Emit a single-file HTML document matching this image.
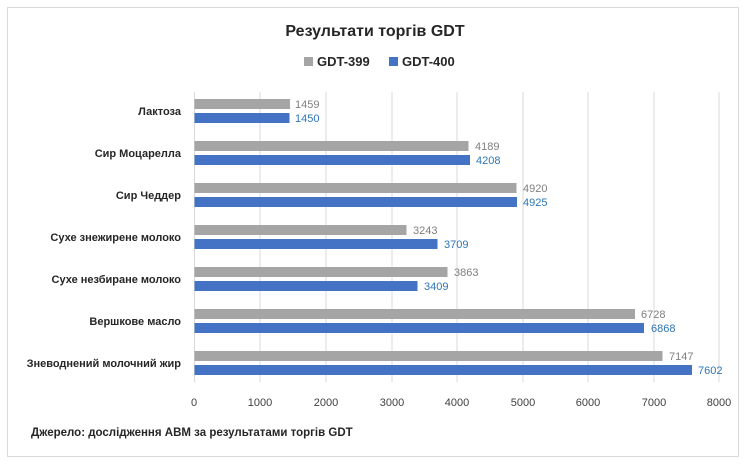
<!DOCTYPE html>
<html><head><meta charset="utf-8"><style>
body{margin:0;background:#fff;}
svg text{font-family:"Liberation Sans Narrow","Liberation Sans",sans-serif;}
</style></head><body>
<svg width="750" height="470" xmlns="http://www.w3.org/2000/svg">
<rect x="7.5" y="7.5" width="731" height="449" fill="#fff" stroke="#d9d9d9"/>
<text x="375" y="36" text-anchor="middle" font-size="16" font-weight="bold" fill="#262626">Результати торгів GDT</text>
<rect x="304" y="57" width="9" height="9" fill="#a5a5a5"/>
<text x="317" y="66" font-size="13" font-weight="bold" fill="#262626">GDT-399</text>
<rect x="389" y="57" width="9" height="9" fill="#4472c4"/>
<text x="402" y="66" font-size="13" font-weight="bold" fill="#262626">GDT-400</text>
<g stroke="#d9d9d9" stroke-width="1">
<line x1="194.5" y1="92" x2="194.5" y2="382"/><line x1="260" y1="92" x2="260" y2="382"/><line x1="326" y1="92" x2="326" y2="382"/><line x1="392" y1="92" x2="392" y2="382"/><line x1="457" y1="92" x2="457" y2="382"/><line x1="523" y1="92" x2="523" y2="382"/><line x1="588" y1="92" x2="588" y2="382"/><line x1="654" y1="92" x2="654" y2="382"/><line x1="719" y1="92" x2="719" y2="382"/>
</g>
<g font-size="11" fill="#404040" text-anchor="middle">
<text x="194" y="406">0</text><text x="260" y="406">1000</text><text x="326" y="406">2000</text><text x="392" y="406">3000</text><text x="457" y="406">4000</text><text x="523" y="406">5000</text><text x="588" y="406">6000</text><text x="654" y="406">7000</text><text x="719" y="406">8000</text>
</g>
<g font-size="11" font-weight="bold" fill="#262626" text-anchor="end">
<text x="181" y="115">Лактоза</text>
<text x="181" y="157">Сир Моцарелла</text>
<text x="181" y="199">Сир Чеддер</text>
<text x="181" y="241">Сухе знежирене молоко</text>
<text x="181" y="283">Сухе незбиране молоко</text>
<text x="181" y="325">Вершкове масло</text>
<text x="181" y="367">Зневоднений молочний жир</text>
</g>
<g font-size="11">
<rect x="194.5" y="99" width="95.5" height="10" fill="#a5a5a5"/><text x="295" y="108" fill="#7f7f7f">1459</text>
<rect x="194.5" y="113" width="95" height="10" fill="#4472c4"/><text x="295" y="122" fill="#2e75b6">1450</text>
<rect x="194.5" y="141" width="274" height="10" fill="#a5a5a5"/><text x="475" y="150" fill="#7f7f7f">4189</text>
<rect x="194.5" y="155" width="275.5" height="10" fill="#4472c4"/><text x="476" y="164" fill="#2e75b6">4208</text>
<rect x="194.5" y="183" width="322" height="10" fill="#a5a5a5"/><text x="523" y="192" fill="#7f7f7f">4920</text>
<rect x="194.5" y="197" width="322.5" height="10" fill="#4472c4"/><text x="523" y="206" fill="#2e75b6">4925</text>
<rect x="194.5" y="225" width="212" height="10" fill="#a5a5a5"/><text x="413" y="234" fill="#7f7f7f">3243</text>
<rect x="194.5" y="239" width="243" height="10" fill="#4472c4"/><text x="444" y="248" fill="#2e75b6">3709</text>
<rect x="194.5" y="267" width="253" height="10" fill="#a5a5a5"/><text x="454" y="276" fill="#7f7f7f">3863</text>
<rect x="194.5" y="281" width="223" height="10" fill="#4472c4"/><text x="424" y="290" fill="#2e75b6">3409</text>
<rect x="194.5" y="309" width="440.5" height="10" fill="#a5a5a5"/><text x="641" y="318" fill="#7f7f7f">6728</text>
<rect x="194.5" y="323" width="449.5" height="10" fill="#4472c4"/><text x="651" y="332" fill="#2e75b6">6868</text>
<rect x="194.5" y="351" width="468" height="10" fill="#a5a5a5"/><text x="669" y="360" fill="#7f7f7f">7147</text>
<rect x="194.5" y="365" width="497.5" height="10" fill="#4472c4"/><text x="698" y="374" fill="#2e75b6">7602</text>
</g>
<text x="31" y="436" font-size="11.5" font-weight="bold" fill="#262626">Джерело: дослідження  АВМ за результатами  торгів GDT</text>
</svg>
</body></html>
